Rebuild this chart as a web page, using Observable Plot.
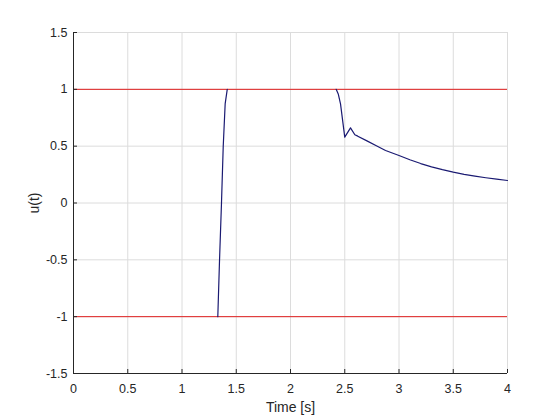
<!DOCTYPE html>
<html>
<head>
<meta charset="utf-8">
<script src="https://cdn.jsdelivr.net/npm/d3@7"></script>
<script src="https://cdn.jsdelivr.net/npm/@observablehq/plot@0.6"></script>
<style>
  html, body { margin: 0; padding: 0; background: #fff; }
  svg { font-family: "Liberation Sans", Arial, sans-serif; }
</style>
</head>
<body>
<div id="chart"></div>
<script>
// Unsaturated parts of the control signal (the saturated parts lie under the red limits)
const time    = [1.330, 1.346, 1.364, 1.380, 1.398, 1.417, 2.421, 2.44, 2.461, 2.50, 2.553, 2.593, 2.62, 2.7, 2.8, 2.876, 3.0, 3.1, 3.2, 3.3, 3.4, 3.5, 3.6, 3.7, 3.8, 3.9, 4.0];
const u       = [-1, -0.5, 0, 0.5, 0.875, 1, 1, 0.96, 0.872, 0.579, 0.661, 0.600, 0.588, 0.549, 0.50, 0.462, 0.418, 0.381, 0.347, 0.318, 0.293, 0.271, 0.252, 0.236, 0.222, 0.210, 0.198];
const segment = [0, 0, 0, 0, 0, 0, 1, 1, 1, 1, 1, 1, 1, 1, 1, 1, 1, 1, 1, 1, 1, 1, 1, 1, 1, 1, 1];
const limits = [-1, 1];
const xTicks = [0, 0.5, 1, 1.5, 2, 2.5, 3, 3.5, 4];
const yTicks = [-1.5, -1, -0.5, 0, 0.5, 1, 1.5];

const series = time.map((t, i) => ({t, u: u[i], seg: segment[i]}));
const ink = "#262626";

const chart = Plot.plot({
  width: 560,
  height: 420,
  marginLeft: 73,
  marginRight: 53,
  marginTop: 32,
  marginBottom: 47,
  style: {fontFamily: "Liberation Sans, Arial, sans-serif", fontSize: "12.5px", color: ink, background: "#fff"},
  x: {domain: [0, 4]},
  y: {domain: [-1.5, 1.5]},
  marks: [
    Plot.gridX(xTicks, {stroke: "#dcdcdc", strokeOpacity: 1}),
    Plot.gridY(yTicks, {stroke: "#dcdcdc", strokeOpacity: 1}),
    Plot.ruleY(limits, {stroke: "#e02020", strokeWidth: 1}),
    Plot.line(series, {x: "t", y: "u", z: "seg", stroke: "#1a1a72", strokeWidth: 1.2}),
    Plot.ruleY([-1.5], {stroke: ink}),
    Plot.ruleX([0], {stroke: ink}),
    Plot.axisX(xTicks, {tickSize: -4, tickPadding: 15, stroke: ink, fill: ink, fontSize: 12.5,
      tickFormat: d => String(d), label: "Time [s]", labelAnchor: "center", labelArrow: "none", labelOffset: 38}),
    Plot.axisY(yTicks, {tickSize: -4, tickPadding: 10, stroke: ink, fill: ink, fontSize: 12.5,
      tickFormat: d => String(d), label: "u(t)", labelAnchor: "center", labelArrow: "none", labelOffset: 44})
  ]
});
d3.select(chart).selectAll("[aria-label='x-axis label'], [aria-label='y-axis label']")
  .attr("font-size", 14).selectAll("text").attr("font-size", 14);
document.getElementById("chart").appendChild(chart);
</script>
</body>
</html>
